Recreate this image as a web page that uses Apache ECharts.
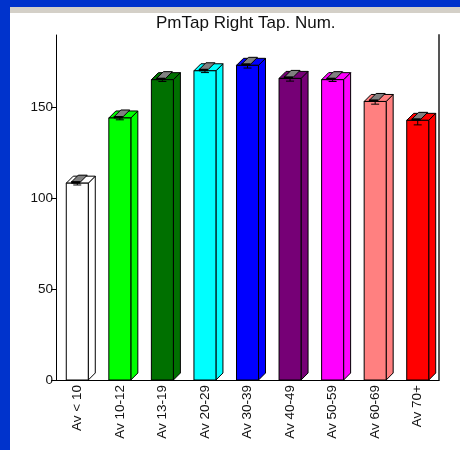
<!DOCTYPE html>
<html><head><meta charset="utf-8">
<script src="https://cdn.jsdelivr.net/npm/echarts@6/dist/echarts.min.js"></script>
<style>html,body{margin:0;padding:0;background:#0033cc;}#c{width:460px;height:450px;}</style>
</head><body><div id="c"></div>
<script>
const categories = ['Av < 10','Av 10-12','Av 13-19','Av 20-29','Av 30-39','Av 40-49','Av 50-59','Av 60-69','Av 70+'];
const values = [108.4, 144.3, 165.4, 170.3, 173.3, 166.1, 165.4, 153.4, 143.0];
const errors = [1.0, 1.0, 1.0, 1.0, 1.5, 1.5, 1.0, 1.5, 2.5];
const colors = ['#ffffff','#00ff00','#007000','#00ffff','#0000ff','#760076','#ff00ff','#ff8080','#ff0000'];
const yTicks = [0, 50, 100, 150];

const chart = echarts.init(document.getElementById('c'));
const D = 7, HW = 11;
function renderItem(params, api) {
  const i = api.value(0);
  const v = api.value(1);
  const e = api.value(2);
  const base = api.coord([i, 0]);
  const top = api.coord([i, v]);
  const lo = api.coord([i, v - e]);
  const cx = base[0], y0 = base[1], yv = top[1], yl = lo[1];
  const col = colors[i];
  const st = {fill: col, stroke: '#000', lineWidth: 1};
  const L = cx - HW, R = cx + HW;
  const ys = yv - 1;
  return {type: 'group', children: [
    {type: 'polygon', shape: {points: [[R, y0], [R + D, y0 - D], [R + D, yv - D], [R, yv]]}, style: st},
    {type: 'polygon', shape: {points: [[L, yv], [L + D, yv - D], [R + D, yv - D], [R, yv]]}, style: st},
    {type: 'rect', shape: {x: L, y: yv, width: 2 * HW, height: y0 - yv}, style: st},
    {type: 'line', shape: {x1: cx - 4, y1: yl, x2: cx + 4, y2: yl}, style: {stroke: '#000', lineWidth: 1}},
    {type: 'line', shape: {x1: cx, y1: yl, x2: cx, y2: yv}, style: {stroke: '#000', lineWidth: 1}},
    {type: 'polygon', shape: {points: [[cx - 6, ys], [cx - 6 + D, ys - D], [cx + 3 + D, ys - D], [cx + 3, ys]]}, style: {fill: '#808080', stroke: '#000', lineWidth: 1}},
    {type: 'rect', shape: {x: cx - 6, y: ys - 1, width: 9, height: 2.5}, style: {fill: '#000'}}
  ]};
}

chart.setOption({
  backgroundColor: '#0033cc',
  animation: false,
  graphic: {elements: [
    {type: 'rect', z: -100, shape: {x: 10, y: 7, width: 450, height: 6}, style: {fill: '#d4d0c8'}},
    {type: 'rect', z: -100, shape: {x: 10, y: 13, width: 450, height: 437}, style: {fill: '#ffffff'}}
  ]},
  title: {text: 'PmTap Right Tap. Num.', left: 156, top: 15, padding: 0,
    textStyle: {fontFamily: 'Liberation Sans', fontSize: 17, fontWeight: 'normal', color: '#111'}},
  grid: {left: 56, right: 21, top: 35, bottom: 70, containLabel: false},
  xAxis: {type: 'category', data: categories,
    axisLine: {lineStyle: {color: '#000', width: 1}},
    axisTick: {show: false},
    axisLabel: {rotate: 90, margin: 5, fontFamily: 'Liberation Sans', fontSize: 13.5, color: '#111', interval: 0}},
  yAxis: [{type: 'value', min: 0, max: 190, position: 'left',
    splitLine: {show: false},
    axisLine: {show: true, lineStyle: {color: '#000', width: 1}},
    axisTick: {show: true, length: 5, lineStyle: {color: '#000'}, customValues: yTicks},
    axisLabel: {margin: 3, fontFamily: 'Liberation Sans', fontSize: 13.5, color: '#111', customValues: yTicks}},
    {type: 'value', min: 0, max: 190, position: 'right',
    splitLine: {show: false},
    axisLine: {show: true, lineStyle: {color: '#555', width: 2}},
    axisTick: {show: false}, axisLabel: {show: false}}],
  series: [{type: 'custom', renderItem: renderItem,
    encode: {x: 0, y: 1},
    data: values.map((v, i) => [i, v, errors[i]])}]
});
</script></body></html>
